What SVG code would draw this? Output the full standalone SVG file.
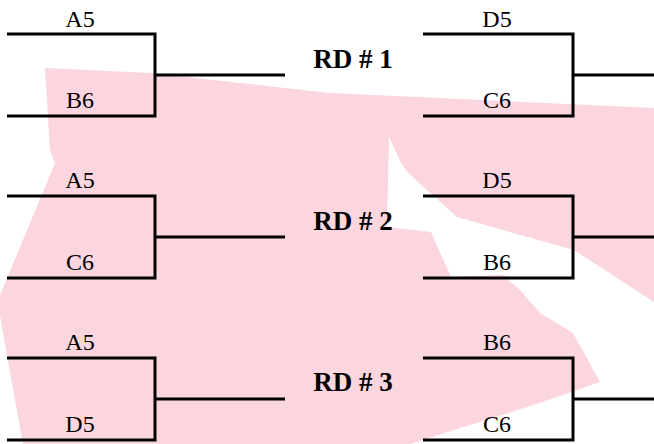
<svg xmlns="http://www.w3.org/2000/svg" width="654" height="444" viewBox="0 0 654 444">
<style>
.ln{fill:none;stroke:#000;stroke-width:3;stroke-linecap:butt;stroke-linejoin:miter}
.lb{font-family:"Liberation Serif","Times New Roman",serif;font-size:24px;fill:#000;text-anchor:middle}
.rd{font-family:"Liberation Serif","Times New Roman",serif;font-size:27px;font-weight:bold;fill:#000;text-anchor:middle}
</style>
<rect width="654" height="444" fill="#fff"/>
<polygon id="watermark" fill="#fcd6de" points="45,68 150,73 330,93 654,108 654,302 574,250 457,217 407,172 401,163 389,137 387,227 431,232 451,277 503,275 520,290 540,313 573,333 600,382 540,403 470,425 410,444 23,444 3,333 0,315 0,295 55,163 50,150"/>
<g id="connectors">
<path class="ln" d="M7,34 H155 V116 H7 M155,75 H285"/>
<path class="ln" d="M423,34 H573 V116 H423 M573,75 H654"/>
<path class="ln" d="M7,196 H155 V278 H7 M155,237 H285"/>
<path class="ln" d="M423,196 H573 V278 H423 M573,237 H654"/>
<path class="ln" d="M7,358 H155 V440 H7 M155,399 H285"/>
<path class="ln" d="M423,358 H573 V440 H423 M573,399 H654"/>
</g>
<g id="rd1">
<text class="lb" x="80" y="27">A5</text>
<text class="lb" x="80" y="108">B6</text>
<text class="rd" x="353" y="68">RD # 1</text>
<text class="lb" x="497" y="27">D5</text>
<text class="lb" x="497" y="108">C6</text>
</g>
<g id="rd2">
<text class="lb" x="80" y="188">A5</text>
<text class="lb" x="80" y="270">C6</text>
<text class="rd" x="353" y="230">RD # 2</text>
<text class="lb" x="497" y="188">D5</text>
<text class="lb" x="497" y="270">B6</text>
</g>
<g id="rd3">
<text class="lb" x="80" y="350">A5</text>
<text class="lb" x="80" y="432">D5</text>
<text class="rd" x="353" y="391">RD # 3</text>
<text class="lb" x="497" y="350">B6</text>
<text class="lb" x="497" y="432">C6</text>
</g>
</svg>
